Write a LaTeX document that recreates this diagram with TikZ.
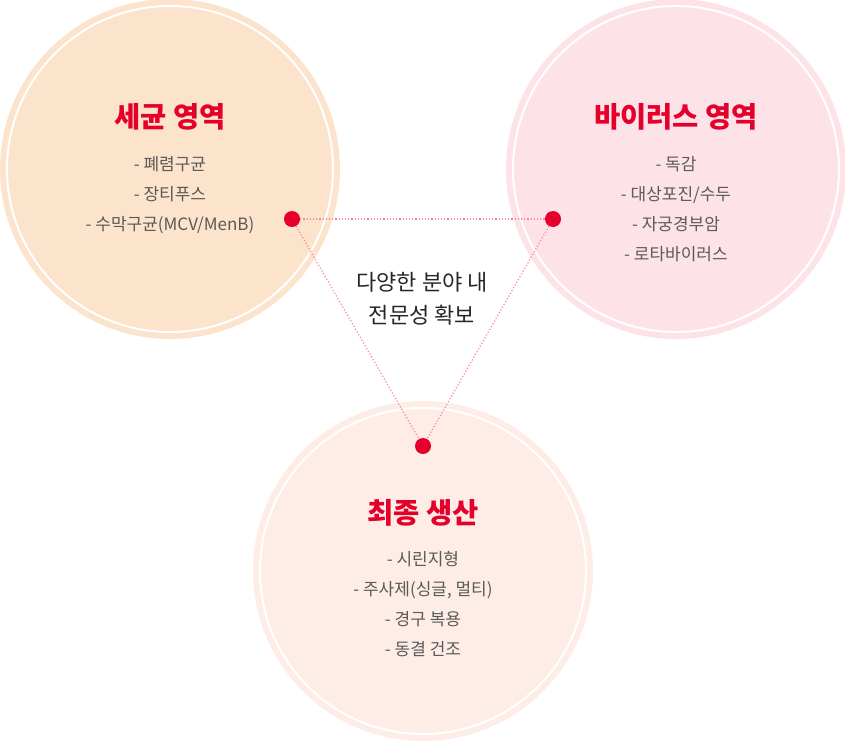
\documentclass[tikz,border=0pt]{standalone}
\usepackage{fontspec}
\setmainfont{Noto Sans CJK KR}
\definecolor{peach}{HTML}{FCE3CC}
\definecolor{pinkc}{HTML}{FDE3E8}
\definecolor{salmon}{HTML}{FDEDE6}
\definecolor{titlered}{HTML}{E4002B}
\definecolor{itemgray}{HTML}{5A5A5A}
\definecolor{dotline}{HTML}{F4899B}
\tikzset{
  bubble/.style={circle, minimum size=340pt, inner sep=0pt, draw=none},
  ringline/.style={draw=white, line width=2pt},
  title/.style={font=\fontsize{28.5}{30}\selectfont\bfseries, text=titlered, inner sep=0pt},
  items/.style={font=\fontsize{17}{30}\selectfont, text=itemgray, align=center, inner sep=0pt},
  center/.style={font=\fontsize{22}{33}\selectfont, text=black!85, align=center, inner sep=0pt},
  reddot/.style={circle, fill=titlered, minimum size=16pt, inner sep=0pt},
  link/.style={draw=dotline, line width=1.2pt, dotted},
}
\begin{document}
\begin{tikzpicture}[x=1pt,y=-1pt]
\useasboundingbox (0,0) rectangle (845,741);
% circles
\node[bubble, fill=peach] (cL) at (170,169) {};
\node[bubble, fill=pinkc] (cR) at (676,169) {};
\node[bubble, fill=salmon] (cB) at (423,571) {};
\draw[ringline] (cL.center) circle[radius=163];
\draw[ringline] (cR.center) circle[radius=163];
\draw[ringline] (cB.center) circle[radius=163];
% titles
\node[title] (tL) at (170,117) {세균 영역};
\node[title] (tR) at (676,117) {바이러스 영역};
\node[title] (tB) at (423,513) {최종 생산};
% items
\node[items, anchor=north] (iL) at (170,156) {- 폐렴구균\\- 장티푸스\\- 수막구균(MCV/MenB)};
\node[items, anchor=north] (iR) at (676,156) {- 독감\\- 대상포진/수두\\- 자궁경부암\\- 로타바이러스};
\node[items, anchor=north] (iB) at (423,551) {- 시린지형\\- 주사제(싱글, 멀티)\\- 경구 복용\\- 동결 건조};
% dots and links
\node[reddot] (dL) at (292,219) {};
\node[reddot] (dR) at (553,219) {};
\node[reddot] (dB) at (423,446) {};
\draw[link] (dL) -- (dR);
\draw[link] (dL) -- (dB);
\draw[link] (dR) -- (dB);
% center text
\node[center] (ctext) at (422,299) {다양한 분야 내\\전문성 확보};
\end{tikzpicture}
\end{document}
